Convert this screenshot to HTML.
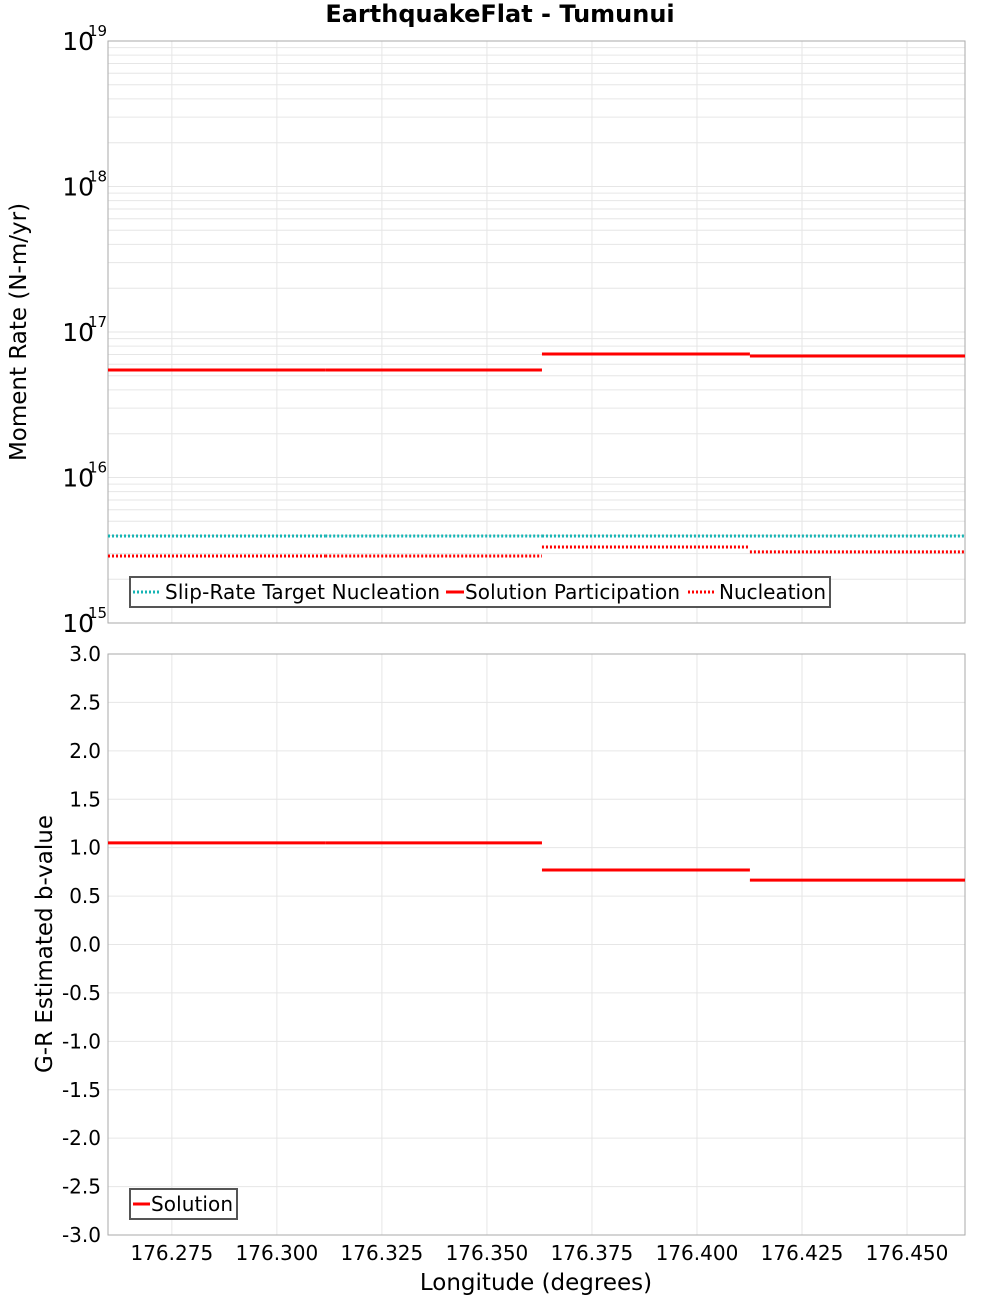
<!DOCTYPE html>
<html><head><meta charset="utf-8"><style>
body{margin:0;background:#fff;}
svg text{font-family:"DejaVu Sans","Liberation Sans",sans-serif;fill:#000;}
</style></head><body>
<svg id="chart" width="1000" height="1300" xmlns="http://www.w3.org/2000/svg"></svg>
<script>
const segBounds = [176.2598, 176.3115, 176.3631, 176.4126, 176.4638];
const targetNucleation = [3.96e15, 3.96e15, 3.96e15, 3.96e15];
const solutionParticipation = [5.48e16, 5.48e16, 7.06e16, 6.84e16];
const nucleation = [2.89e15, 2.89e15, 3.33e15, 3.08e15];
const bValues = [1.05, 1.05, 0.77, 0.665];
const xTicks = [176.275, 176.300, 176.325, 176.350, 176.375, 176.400, 176.425, 176.450];
const xTickLabels = ["176.275","176.300","176.325","176.350","176.375","176.400","176.425","176.450"];
const logDecades = [15, 16, 17, 18, 19];
const bTicks = [3.0,2.5,2.0,1.5,1.0,0.5,0.0,-0.5,-1.0,-1.5,-2.0,-2.5,-3.0];

const svg = document.getElementById('chart');
const NS = 'http://www.w3.org/2000/svg';
const L = 108, R = 965, T1 = 41, B1 = 623, T2 = 654, B2 = 1235;
const xMin = 176.2598, xMax = 176.4638;
const xs = v => L + (v - xMin) / (xMax - xMin) * (R - L);
const yLog = v => B1 - (Math.log10(v) - 15) / 4 * (B1 - T1);
const yB = v => B2 - (v + 3) / 6 * (B2 - T2);
function mk(tag, attrs, parent) {
  const e = document.createElementNS(NS, tag);
  for (const k in attrs) e.setAttribute(k, attrs[k]);
  (parent || svg).appendChild(e);
  return e;
}
function txt(s, attrs, parent) { const t = mk('text', attrs, parent); t.textContent = s; return t; }

const title = txt('EarthquakeFlat - Tumunui', {x: 500, y: 22, 'text-anchor': 'middle', 'font-size': 24, 'font-weight': 'bold'});



const g1 = mk('g', {});


for (let d = 15; d < 19; d++) for (let m = 1; m < 10; m++) {
  const y = yLog(m * Math.pow(10, d));
  mk('line', {x1: L, x2: R, y1: y, y2: y, stroke: '#e6e6e6', 'stroke-width': 1}, g1);
}
const g2 = mk('g', {});


bTicks.forEach(v => { const y = yB(v); mk('line', {x1: L, x2: R, y1: y, y2: y, stroke: '#e6e6e6'}, g2); });
xTicks.forEach(v => {
  const x = xs(v);
  mk('line', {x1: x, x2: x, y1: T1, y2: B1, stroke: '#e6e6e6'}, g1);
  mk('line', {x1: x, x2: x, y1: T2, y2: B2, stroke: '#e6e6e6'}, g2);
});

const f1 = mk('rect', {x: L, y: T1, width: R - L, height: B1 - T1, fill: 'none', stroke: '#aaa'});


const f2 = mk('rect', {x: L, y: T2, width: R - L, height: B2 - T2, fill: 'none', stroke: '#aaa'});



function drawSeries(vals, yf, color, dash, name) {
  const g = mk('g', {});
  
  
  vals.forEach((v, i) => {
    const y = yf(v);
    const a = {x1: xs(segBounds[i]), x2: xs(segBounds[i + 1]), y1: y, y2: y, stroke: color, 'stroke-width': 3};
    if (dash) a['stroke-dasharray'] = '2,2';
    mk('line', a, g);
  });
}
drawSeries(targetNucleation, yLog, '#16b4b4', true, 'slip-rate-target-nucleation-series');
drawSeries(solutionParticipation, yLog, '#ff0000', false, 'solution-participation-series');
drawSeries(nucleation, yLog, '#ff0000', true, 'nucleation-series');
drawSeries(bValues, yB, '#ff0000', false, 'solution-b-value-series');

logDecades.forEach(d => {
  const y = yLog(Math.pow(10, d));
  const t = txt('10', {x: 94, y: y + 9, 'text-anchor': 'end', 'font-size': 25});
  
  
  const s = txt(String(d), {x: 88, y: y - 5, 'font-size': 15});
  
  
});
bTicks.forEach(v => {
  const t = txt(v.toFixed(1), {x: 101, y: yB(v) + 7, 'text-anchor': 'end', 'font-size': 20});
  
  
});
xTicks.forEach((v, i) => {
  const t = txt(xTickLabels[i], {x: xs(v), y: 1260, 'text-anchor': 'middle', 'font-size': 20});
  
  
});

const yt1 = txt('Moment Rate (N-m/yr)', {x: 0, y: 0, transform: 'translate(26,332) rotate(-90)', 'text-anchor': 'middle', 'font-size': 23});


const yt2 = txt('G-R Estimated b-value', {x: 0, y: 0, transform: 'translate(52,944) rotate(-90)', 'text-anchor': 'middle', 'font-size': 23});


const xt = txt('Longitude (degrees)', {x: 536, y: 1290, 'text-anchor': 'middle', 'font-size': 23});



const lg = mk('g', {});


mk('rect', {x: 130, y: 577, width: 700, height: 30, fill: '#fff', stroke: '#555', 'stroke-width': 2}, lg);
mk('line', {x1: 133, x2: 161, y1: 592, y2: 592, stroke: '#16b4b4', 'stroke-width': 3, 'stroke-dasharray': '2,2'}, lg);
txt('Slip-Rate Target Nucleation', {x: 165, y: 599, 'font-size': 20, textLength: 275}, lg);
mk('line', {x1: 446, x2: 464, y1: 592, y2: 592, stroke: '#ff0000', 'stroke-width': 3}, lg);
txt('Solution Participation', {x: 465, y: 599, 'font-size': 20, textLength: 215}, lg);
mk('line', {x1: 688, x2: 716, y1: 592, y2: 592, stroke: '#ff0000', 'stroke-width': 3, 'stroke-dasharray': '2,2'}, lg);
txt('Nucleation', {x: 719, y: 599, 'font-size': 20, textLength: 107}, lg);

const lg2 = mk('g', {});


mk('rect', {x: 130, y: 1189, width: 107, height: 30, fill: '#fff', stroke: '#555', 'stroke-width': 2}, lg2);
mk('line', {x1: 133, x2: 150, y1: 1204, y2: 1204, stroke: '#ff0000', 'stroke-width': 3}, lg2);
txt('Solution', {x: 151, y: 1211, 'font-size': 20, textLength: 82}, lg2);
</script>
</body></html>
